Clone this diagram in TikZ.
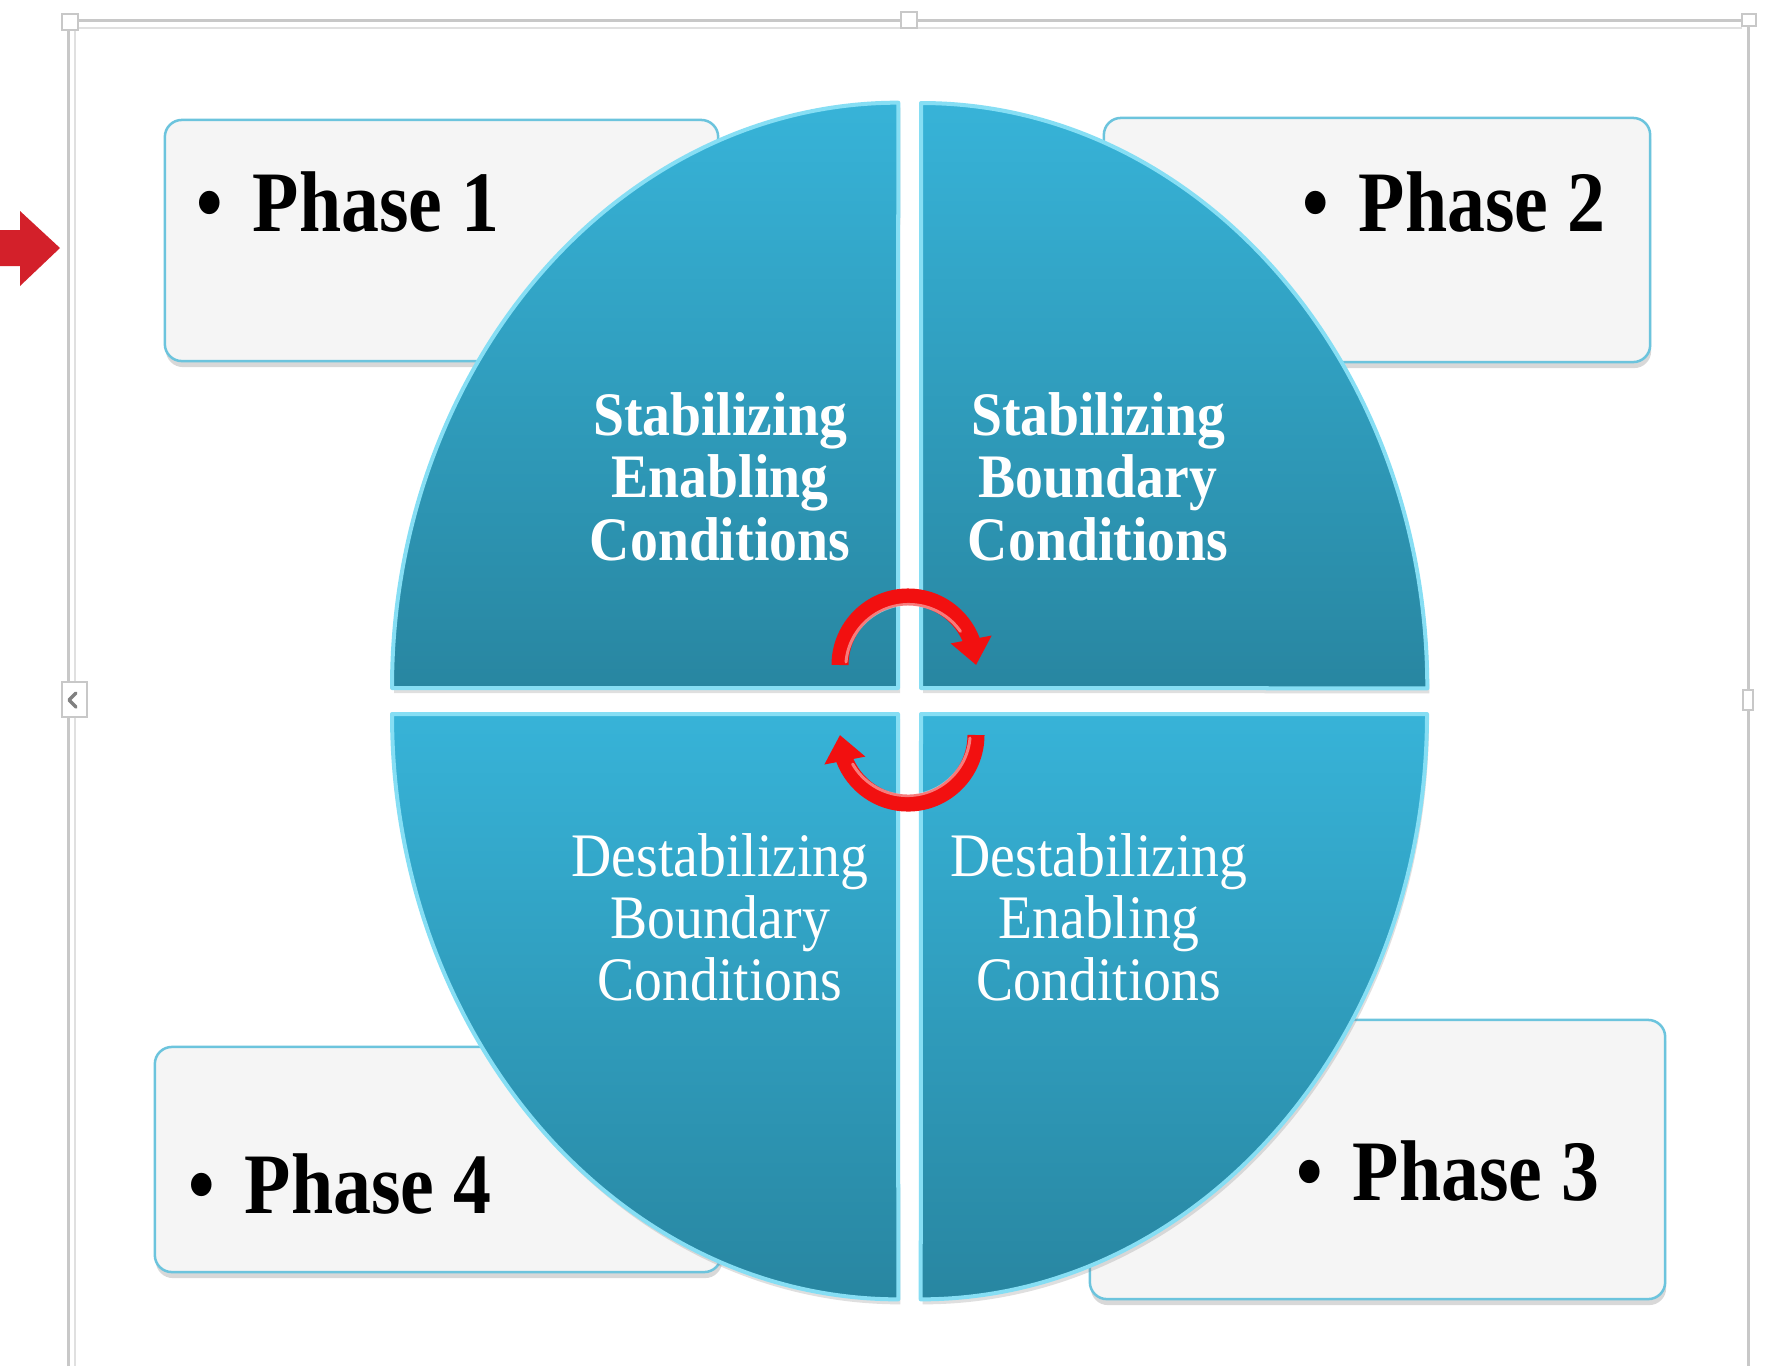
\documentclass[tikz,border=0pt]{standalone}
\usepackage{fontspec}
\setmainfont{Liberation Serif}
\newfontfamily\phasefont[FakeStretch=0.88]{Liberation Serif}
\newfontfamily\quadfont[FakeStretch=0.9]{Liberation Serif}
\usetikzlibrary{shadows,arrows.meta,bending}

\definecolor{frameline}{HTML}{C8C8C8}
\definecolor{frameinner}{HTML}{E0E0E0}
\definecolor{boxfill}{HTML}{F5F5F5}
\definecolor{boxedge}{HTML}{6CC4DD}
\definecolor{pietop}{HTML}{37B3D8}
\definecolor{piebot}{HTML}{2886A1}
\definecolor{bevel}{HTML}{86DEF4}
\definecolor{cyclered}{HTML}{F21010}
\definecolor{pointer}{HTML}{D3202A}

\begin{document}
\begin{tikzpicture}[x=0.01cm,y=-0.01cm,
  phasebox/.style={fill=boxfill, draw=boxedge, line width=0.025cm,
    rounded corners=0.17cm, inner sep=0,
    drop shadow={shadow xshift=0.01cm, shadow yshift=-0.06cm, opacity=0.3}},
  quadrant/.style={top color=pietop, bottom color=piebot, draw=bevel,
    line width=0.04cm, line join=round,
    drop shadow={shadow xshift=0.02cm, shadow yshift=-0.05cm, opacity=0.25}},
  phasetext/.style={font=\phasefont\bfseries\fontsize{24.5pt}{24.5pt}\selectfont,
    inner sep=0, text=black},
  quadbold/.style={font=\quadfont\bfseries\fontsize{17.6pt}{17.6pt}\selectfont,
    inner sep=0, text=white, anchor=base},
  quadlight/.style={font=\quadfont\fontsize{17.6pt}{17.6pt}\selectfont,
    inner sep=0, text=white, anchor=base},
  cyclearrow/.style={draw=cyclered, line width=0.17cm,
    -{Triangle[width=0.4cm,length=0.26cm]}},
  handle/.style={fill=white, draw=frameline, line width=0.02cm}]

% page and margins
\useasboundingbox (0,0) rectangle (1782,1366);
\fill[white] (0,0) rectangle (1782,1366);

% selection frame
\draw[frameinner, line width=0.02cm] (75,1366) -- (75,28) -- (1742,28);
\draw[frameline, line width=0.03cm] (68,1366) -- (68,20) -- (1748,20) -- (1748,1366);
\draw[handle] (62,14) rectangle (78,30);
\draw[handle] (901,12) rectangle (917,28);
\draw[handle] (1742,14) rectangle (1756,26);
\draw[handle] (62,682) rectangle (87,717);
\draw[gray, line width=0.035cm, line cap=round, line join=round] (76,693) -- (69,700) -- (76,707);
\draw[handle] (1743,690) rectangle (1753,710);

% pointer arrow on the left
\fill[pointer] (0,230) -- (20,230) -- (20,211) -- (60,248) -- (20,286)
  -- (20,266) -- (0,266) -- cycle;

% phase boxes
\node[phasebox, minimum width=5.53cm, minimum height=2.41cm] (box1) at (441.5,240.5) {};
\node[phasebox, minimum width=5.46cm, minimum height=2.44cm] (box2) at (1377,240) {};
\node[phasebox, minimum width=5.75cm, minimum height=2.79cm] (box3) at (1377.5,1159.5) {};
\node[phasebox, minimum width=5.66cm, minimum height=2.25cm] (box4) at (438,1159.5) {};

% the four quarters of the oval
\path[quadrant] (898,688) -- (392,688)
  arc[start angle=180, end angle=90, x radius=5.06cm, y radius=5.85cm] -- cycle;
\path[quadrant] (921,688) -- (921,103)
  arc[start angle=90, end angle=0, x radius=5.06cm, y radius=5.85cm] -- cycle;
\path[quadrant] (898,714) -- (392,714)
  arc[start angle=180, end angle=270, x radius=5.06cm, y radius=5.85cm] -- cycle;
\path[quadrant] (921,714) -- (1427,714)
  arc[start angle=0, end angle=-90, x radius=5.06cm, y radius=5.85cm] -- cycle;

% cycle arrows in the middle
\coordinate (upstart) at (840,665);
\coordinate (lowstart) at (976,735);
\draw[cyclearrow] (upstart) arc[start angle=180, end angle=0, radius=0.68cm];
\draw[cyclearrow] (lowstart) arc[start angle=0, end angle=-180, radius=0.68cm];
\draw[white, opacity=0.45, line width=0.03cm, line cap=round]
  (846,662) arc[start angle=175, end angle=35, radius=0.63cm];
\draw[white, opacity=0.45, line width=0.03cm, line cap=round]
  (970,738) arc[start angle=-5, end angle=-150, radius=0.63cm];

% phase labels
\node[phasetext, anchor=base] (dot1) at (210,231) {\textbullet};
\node[phasetext, anchor=base west] (lab1) at (252,231) {Phase 1};
\node[phasetext, anchor=base] (dot2) at (1316,231) {\textbullet};
\node[phasetext, anchor=base west] (lab2) at (1358,231) {Phase 2};
\node[phasetext, anchor=base] (dot3) at (1310,1200) {\textbullet};
\node[phasetext, anchor=base west] (lab3) at (1352,1200) {Phase 3};
\node[phasetext, anchor=base] (dot4) at (202,1213) {\textbullet};
\node[phasetext, anchor=base west] (lab4) at (244,1213) {Phase 4};

% quarter labels
\node[quadbold] (q1a) at (720,435) {Stabilizing};
\node[quadbold] (q1b) at (720,497) {Enabling};
\node[quadbold] (q1c) at (720,560) {Conditions};
\node[quadbold] (q2a) at (1098,435) {Stabilizing};
\node[quadbold] (q2b) at (1098,497) {Boundary};
\node[quadbold] (q2c) at (1098,560) {Conditions};
\node[quadlight] (q4a) at (720,876) {Destabilizing};
\node[quadlight] (q4b) at (720,938) {Boundary};
\node[quadlight] (q4c) at (720,1000) {Conditions};
\node[quadlight] (q3a) at (1099,876) {Destabilizing};
\node[quadlight] (q3b) at (1099,938) {Enabling};
\node[quadlight] (q3c) at (1099,1000) {Conditions};
\end{tikzpicture}
\end{document}
